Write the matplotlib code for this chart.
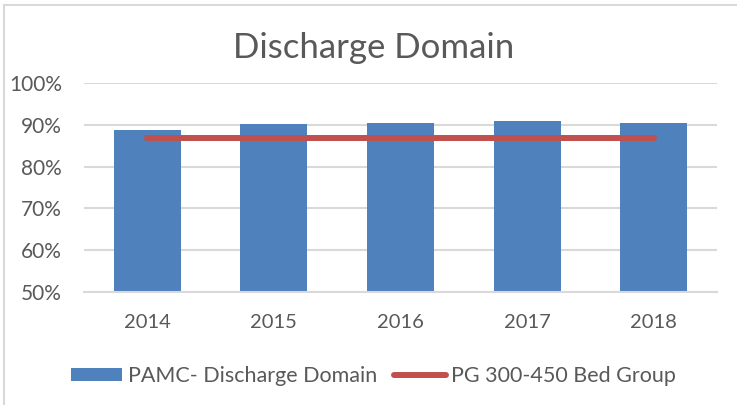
import matplotlib
matplotlib.use("Agg")
import matplotlib.pyplot as plt
from matplotlib.lines import Line2D
from matplotlib.patches import Patch

plt.rcParams['font.family'] = ['Lato', 'DejaVu Sans']

years = ["2014", "2015", "2016", "2017", "2018"]
pamc = [88.8, 90.2, 90.5, 90.8, 90.4]
pg_group = [86.8, 86.8, 86.8, 86.8, 86.8]
yticks = [50, 60, 70, 80, 90, 100]

text_color = "#595959"
bar_color = "#4F81BD"
line_color = "#C0504D"
grid_color = "#D9D9D9"

fig = plt.figure(figsize=(7.37, 4.05), dpi=100)
ax = fig.add_axes([84/737, 1-292/405, (717-84)/737, (292-83)/405])

x = list(range(len(years)))
ax.bar(x, pamc, width=0.53, color=bar_color, zorder=2)
ax.plot(x, pg_group, color=line_color, linewidth=4.3, solid_capstyle='round', zorder=3)

ax.set_xlim(-0.5, 4.5)
ax.set_ylim(50, 100)
ax.set_yticks(yticks)
ax.set_yticklabels([f"{v}%" for v in yticks])
ax.set_xticks(x)
ax.set_xticklabels(years)
ax.yaxis.grid(True, color=grid_color, linewidth=1.5, zorder=0)
ax.set_axisbelow(True)
for s in ['top', 'right', 'left']:
    ax.spines[s].set_visible(False)
ax.spines['bottom'].set_color(grid_color)
ax.spines['bottom'].set_linewidth(1.5)
ax.tick_params(axis='both', length=0, colors=text_color)
ax.tick_params(axis='y', pad=16, labelsize=15)
ax.tick_params(axis='x', pad=16, labelsize=14.5)

fig.text(373.5/737, 1-48/405, "Discharge Domain", ha='center', va='center',
         fontsize=25, color=text_color)

handles = [Patch(facecolor=bar_color, edgecolor='none'),
           Line2D([0], [0], color=line_color, linewidth=4.3, solid_capstyle='round')]
labels = ["PAMC- Discharge Domain", "PG 300-450 Bed Group"]
fig.legend(handles, labels, loc='center', bbox_to_anchor=(373.5/737, 1-376/405),
           ncol=2, frameon=False, fontsize=15.5, labelcolor=text_color,
           handlelength=2.4, handleheight=0.6, handletextpad=0.25, columnspacing=0.8)

# chart border (top and left)
fig.add_artist(Line2D([3.5/737, 1], [1-5/405, 1-5/405], color=grid_color, linewidth=1.5,
                      transform=fig.transFigure))
fig.add_artist(Line2D([3.5/737, 3.5/737], [0, 1-5/405], color=grid_color, linewidth=1.5,
                      transform=fig.transFigure))

fig.savefig("out.png", dpi=100)
